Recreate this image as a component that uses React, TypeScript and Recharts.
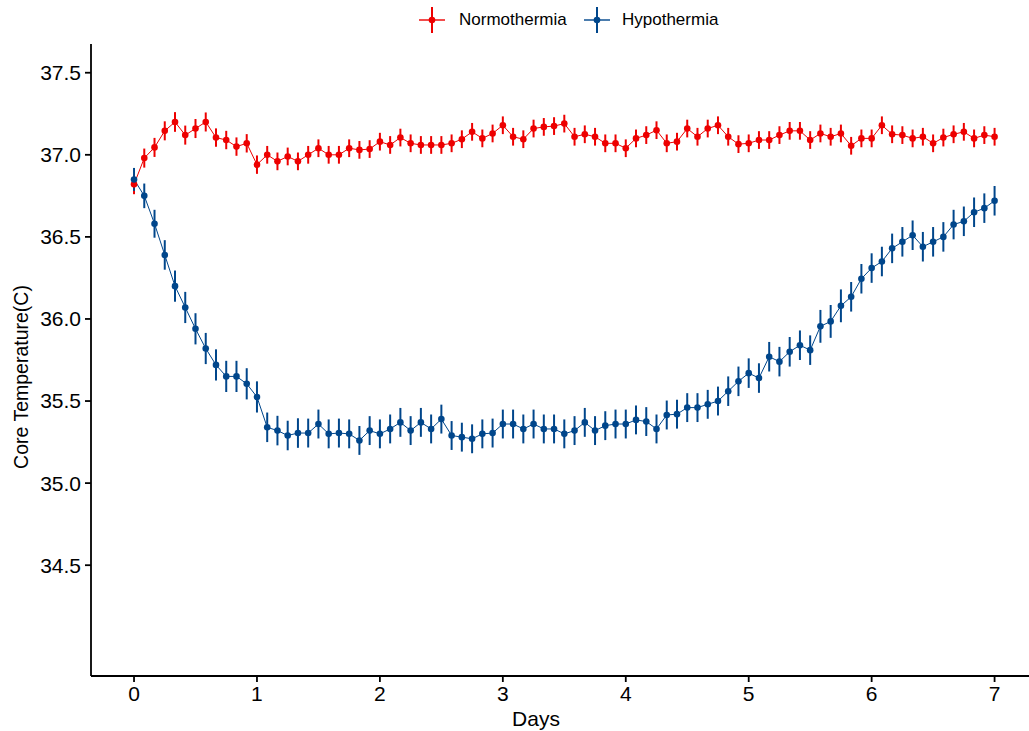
import React from 'react';
import { LineChart, Line, XAxis, YAxis, ErrorBar, Legend, Label } from 'recharts';

const hours = [
  0, 2, 4, 6, 8, 10, 12, 14, 16, 18, 20, 22, 24, 26, 28, 30, 32, 34, 36, 38, 40, 42, 44, 46,
  48, 50, 52, 54, 56, 58, 60, 62, 64, 66, 68, 70, 72, 74, 76, 78, 80, 82, 84, 86, 88, 90, 92, 94,
  96, 98, 100, 102, 104, 106, 108, 110, 112, 114, 116, 118, 120, 122, 124, 126, 128, 130, 132, 134,
  136, 138, 140, 142, 144, 146, 148, 150, 152, 154, 156, 158, 160, 162, 164, 166, 168,
];

const normothermia = [
  36.82, 36.98, 37.045, 37.146, 37.2, 37.12, 37.16, 37.2, 37.105, 37.09, 37.05, 37.07,
  36.94, 37.0, 36.96, 36.99, 36.96, 37.0, 37.04, 37.0, 37.0, 37.04, 37.03, 37.035,
  37.08, 37.06, 37.105, 37.07, 37.06, 37.06, 37.06, 37.07, 37.095, 37.14, 37.1, 37.13,
  37.18, 37.11, 37.095, 37.16, 37.17, 37.175, 37.19, 37.11, 37.125, 37.11, 37.07, 37.07,
  37.04, 37.1, 37.12, 37.15, 37.07, 37.08, 37.16, 37.11, 37.16, 37.18, 37.11, 37.065,
  37.07, 37.09, 37.09, 37.12, 37.146, 37.146, 37.09, 37.13, 37.11, 37.13, 37.055, 37.1,
  37.1, 37.18, 37.125, 37.12, 37.1, 37.11, 37.07, 37.105, 37.125, 37.14, 37.1, 37.12, 37.11,
];

const normothermiaSE = [
  0.06, 0.058, 0.058, 0.058, 0.06, 0.058, 0.058, 0.058, 0.056, 0.056, 0.056, 0.056,
  0.056, 0.054, 0.054, 0.054, 0.054, 0.054, 0.054, 0.054, 0.054, 0.054, 0.054, 0.054,
  0.054, 0.054, 0.054, 0.054, 0.054, 0.054, 0.054, 0.054, 0.054, 0.054, 0.054, 0.054,
  0.054, 0.054, 0.054, 0.054, 0.054, 0.054, 0.054, 0.054, 0.054, 0.054, 0.054, 0.054,
  0.054, 0.054, 0.054, 0.054, 0.054, 0.054, 0.054, 0.054, 0.054, 0.054, 0.054, 0.054,
  0.054, 0.054, 0.054, 0.054, 0.054, 0.054, 0.054, 0.054, 0.054, 0.054, 0.054, 0.054,
  0.054, 0.054, 0.054, 0.054, 0.054, 0.054, 0.054, 0.054, 0.054, 0.054, 0.054, 0.054, 0.054,
];

const hypothermia = [
  36.85, 36.75, 36.58, 36.39, 36.2, 36.07, 35.94, 35.82, 35.72, 35.65, 35.65, 35.605,
  35.525, 35.34, 35.32, 35.29, 35.305, 35.305, 35.36, 35.3, 35.305, 35.3, 35.26, 35.32,
  35.3, 35.33, 35.37, 35.32, 35.37, 35.33, 35.39, 35.29, 35.28, 35.27, 35.3, 35.305,
  35.36, 35.36, 35.33, 35.36, 35.33, 35.33, 35.3, 35.32, 35.37, 35.32, 35.35, 35.36,
  35.36, 35.385, 35.375, 35.33, 35.415, 35.42, 35.46, 35.46, 35.48, 35.5, 35.56, 35.62,
  35.67, 35.64, 35.77, 35.74, 35.8, 35.84, 35.81, 35.955, 35.985, 36.08, 36.135, 36.245,
  36.31, 36.35, 36.43, 36.47, 36.51, 36.44, 36.47, 36.5, 36.575, 36.595, 36.65, 36.675, 36.72,
];

const hypothermiaSE = [
  0.07, 0.075, 0.085, 0.09, 0.095, 0.095, 0.095, 0.095, 0.095, 0.095, 0.095, 0.095,
  0.095, 0.09, 0.09, 0.09, 0.09, 0.088, 0.088, 0.088, 0.088, 0.088, 0.088, 0.088,
  0.088, 0.088, 0.088, 0.088, 0.088, 0.088, 0.088, 0.088, 0.088, 0.088, 0.088, 0.088,
  0.088, 0.088, 0.088, 0.088, 0.088, 0.088, 0.088, 0.088, 0.088, 0.088, 0.088, 0.088,
  0.088, 0.088, 0.088, 0.088, 0.088, 0.088, 0.088, 0.088, 0.088, 0.088, 0.09, 0.09,
  0.09, 0.09, 0.09, 0.09, 0.09, 0.09, 0.09, 0.1, 0.1, 0.1, 0.09, 0.09,
  0.09, 0.09, 0.09, 0.09, 0.09, 0.09, 0.09, 0.09, 0.09, 0.09, 0.09, 0.09, 0.09,
];

const xTicks = [0, 1, 2, 3, 4, 5, 6, 7];
const yTicks = [34.5, 35.0, 35.5, 36.0, 36.5, 37.0, 37.5];
const seriesNames = ['Normothermia', 'Hypothermia'];

const RED = '#ED0000';
const BLUE = '#00468B';
const FONT = '"Liberation Sans", Arial, Helvetica, sans-serif';

const data = hours.map((h, i) => ({
  day: h / 24,
  normo: normothermia[i],
  normoErr: normothermiaSE[i],
  hypo: hypothermia[i],
  hypoErr: hypothermiaSE[i],
}));

const Glyph = ({ color }: { color: string }) => (
  <svg width={28} height={28} style={{ display: 'block' }}>
    <line x1={1} y1={14} x2={27} y2={14} stroke={color} strokeOpacity={0.7} strokeWidth={2} />
    <line x1={14} y1={1} x2={14} y2={27} stroke={color} strokeWidth={2} />
    <circle cx={14} cy={14} r={3.3} fill={color} />
  </svg>
);

const LegendContent = () => (
  <div style={{ position: 'relative', height: 44, width: 1029, fontFamily: FONT }}>
    <div style={{ position: 'absolute', left: 418, top: 6 }}>
      <Glyph color={RED} />
    </div>
    <div style={{ position: 'absolute', left: 459, top: 8, fontSize: 17, lineHeight: '24px', color: '#000' }}>
      {seriesNames[0]}
    </div>
    <div style={{ position: 'absolute', left: 583, top: 6 }}>
      <Glyph color={BLUE} />
    </div>
    <div style={{ position: 'absolute', left: 622, top: 8, fontSize: 17, lineHeight: '24px', color: '#000' }}>
      {seriesNames[1]}
    </div>
  </div>
);

const tickStyle = { fill: '#000', fontSize: 21, fontFamily: FONT };

export default function App() {
  return (
    <div style={{ position: 'absolute', left: 0, top: 0, width: 1029, height: 731, background: '#fff', fontFamily: FONT }}>
      <LineChart width={1029} height={731} data={data} margin={{ top: 0, right: 0, bottom: 0, left: 0 }}>
        <Legend verticalAlign="top" align="left" content={<LegendContent />} wrapperStyle={{ left: 0, top: 0 }} />
        <XAxis
          dataKey="day"
          type="number"
          domain={[-0.35, 7.28]}
          allowDataOverflow
          ticks={xTicks}
          height={55}
          tick={tickStyle}
          tickSize={6}
          tickMargin={4}
          axisLine={{ stroke: '#000', strokeWidth: 1.8 }}
          tickLine={{ stroke: '#000', strokeWidth: 1.8 }}
        >
          <Label
            content={() => (
              <text x={536} y={726} textAnchor="middle" fontSize={21} fontFamily={FONT} fill="#000">
                Days
              </text>
            )}
          />
        </XAxis>
        <YAxis
          type="number"
          domain={[33.825, 37.675]}
          allowDataOverflow
          ticks={yTicks}
          width={91}
          tick={tickStyle}
          tickFormatter={(v: number) => v.toFixed(1)}
          tickSize={6}
          tickMargin={4}
          axisLine={{ stroke: '#000', strokeWidth: 1.8 }}
          tickLine={{ stroke: '#000', strokeWidth: 1.8 }}
        >
          <Label
            content={() => {
              const cx = 21;
              const cy = 377;
              return (
                <text
                  x={cx}
                  y={cy}
                  transform={`rotate(-90 ${cx} ${cy})`}
                  textAnchor="middle"
                  dominantBaseline="central"
                  fontSize={19.5}
                  fontFamily={FONT}
                  fill="#000"
                >
                  Core Temperature(C)
                </text>
              );
            }}
          />
        </YAxis>
        <Line
          dataKey="normo"
          name={seriesNames[0]}
          stroke={RED}
          strokeWidth={1}
          dot={{ r: 3.3, fill: RED, stroke: 'none' }}
          activeDot={false}
          isAnimationActive={false}
        >
          <ErrorBar dataKey="normoErr" width={0} stroke={RED} strokeWidth={2} direction="y" isAnimationActive={false} />
        </Line>
        <Line
          dataKey="hypo"
          name={seriesNames[1]}
          stroke={BLUE}
          strokeWidth={1}
          dot={{ r: 3.3, fill: BLUE, stroke: 'none' }}
          activeDot={false}
          isAnimationActive={false}
        >
          <ErrorBar dataKey="hypoErr" width={0} stroke={BLUE} strokeWidth={2} direction="y" isAnimationActive={false} />
        </Line>
      </LineChart>
    </div>
  );
}
